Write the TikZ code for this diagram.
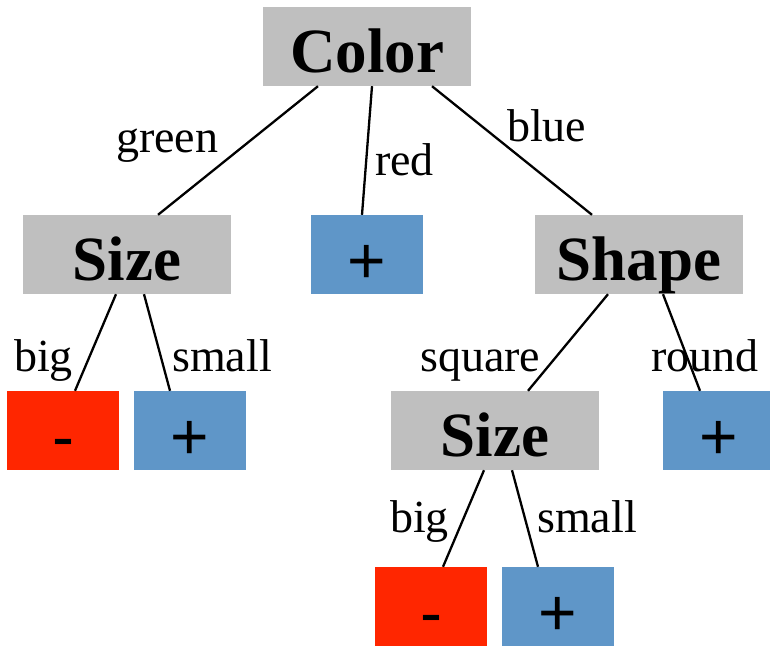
\documentclass[tikz,border=0pt]{standalone}
\usepackage{fontspec}
\setmainfont{Liberation Serif}
\newfontfamily\signfont{Liberation Sans}
\definecolor{boxgray}{HTML}{BFBFBF}
\definecolor{leafblue}{HTML}{5F96C8}
\definecolor{leafred}{HTML}{FF2600}
\begin{document}
\begin{tikzpicture}[x=1pt,y=-1pt,
  attrbox/.style={fill=boxgray, inner sep=0pt, minimum width=208pt, text height=65pt, text depth=14pt,
    font=\fontsize{63}{70}\selectfont\bfseries},
  leafbox/.style={inner sep=0pt, minimum width=112pt, text height=68pt, text depth=11pt,
    font=\signfont\fontsize{66}{74}\selectfont},
  posleaf/.style={leafbox, fill=leafblue},
  negleaf/.style={leafbox, fill=leafred},
  lbl/.style={anchor=base west, inner sep=0pt, font=\fontsize{46}{50}\selectfont},
  link/.style={line width=2.3pt}]
\useasboundingbox (0,0) rectangle (770,646);
\clip (0,0) rectangle (770,646);
% nodes
\node[attrbox] (color) at (367,46.5) {Color};
\node[attrbox] (sizeA) at (127,254.5) {Size};
\node[posleaf] (redleaf) at (367,254.5) {+};
\node[attrbox] (shape) at (639,254.5) {Shape};
\node[negleaf] (bigA) at (63,430.5) {-};
\node[posleaf] (smallA) at (190,430.5) {+};
\node[attrbox] (sizeB) at (495,430.5) {Size};
\node[posleaf] (roundleaf) at (719,430.5) {+};
\node[negleaf] (bigB) at (431,606.5) {-};
\node[posleaf] (smallB) at (558,606.5) {+};
% edges
\draw[link] ([xshift=-49pt]color.south) -- ([xshift=31pt]sizeA.north);
\draw[link] ([xshift=5pt]color.south) -- ([xshift=-5pt]redleaf.north);
\draw[link] ([xshift=65pt]color.south) -- ([xshift=-47pt]shape.north);
\draw[link] ([xshift=-11pt]sizeA.south) -- ([xshift=12pt]bigA.north);
\draw[link] ([xshift=17pt]sizeA.south) -- ([xshift=-20pt]smallA.north);
\draw[link] ([xshift=-31pt]shape.south) -- ([xshift=33pt]sizeB.north);
\draw[link] ([xshift=24pt]shape.south) -- ([xshift=-19pt]roundleaf.north);
\draw[link] ([xshift=-11pt]sizeB.south) -- ([xshift=12pt]bigB.north);
\draw[link] ([xshift=17pt]sizeB.south) -- ([xshift=-20pt]smallB.north);
% labels
\node[lbl] (lgreen) at (116,152) {green};
\node[lbl] (lred) at (375,175) {red};
\node[lbl] (lblue) at (507,141) {blue};
\node[lbl] (lbigA) at (14,371) {big};
\node[lbl] (lsmallA) at (172,371) {small};
\node[lbl] (lsquare) at (420,371) {square};
\node[lbl] (lround) at (651,371) {round};
\node[lbl] (lbigB) at (390,532) {big};
\node[lbl] (lsmallB) at (537,532) {small};
\end{tikzpicture}
\end{document}
